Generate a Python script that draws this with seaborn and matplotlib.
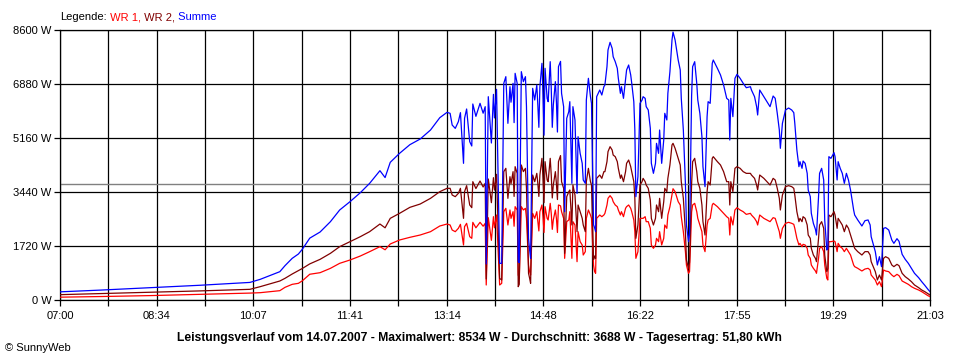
import matplotlib
matplotlib.use("Agg")
import numpy as np
import pandas as pd
import matplotlib.pyplot as plt
import seaborn as sns

# Minuten seit 07:00 und Leistung je Wechselrichter (W)
minutes = [
    0, 39, 87, 136, 184, 194, 203, 213, 218, 225, 231, 235, 242, 252, 262, 271, 281, 291,
    300, 310, 315, 320, 329, 339, 349, 359, 368, 375,
    378, 380, 383, 386, 388, 391, 392, 394, 397, 399, 400, 407, 412, 413, 415, 420, 423,
    426, 428, 430, 432, 434, 436, 439, 441, 443, 444, 445, 447, 449, 451, 452, 454, 455,
    456, 458, 460, 462, 463, 465, 467, 468, 470, 472, 473, 475, 476, 478, 480, 481, 483,
    485, 486, 488, 489, 491, 493, 494, 496, 497, 499, 501, 502, 504, 506, 507, 509, 510,
    512, 514, 515, 517, 518, 519, 520, 523, 525, 527, 528, 530, 531, 533, 535, 536, 538,
    540, 541, 543, 544, 546, 548, 549, 551, 553, 554, 556, 557, 558, 560, 562, 564, 565,
    567, 568, 570, 572, 573, 575, 577, 578, 580, 581, 583, 585, 586, 588, 589, 591, 593,
    594, 596, 597, 599, 601, 602, 604, 606, 607, 609, 610, 612, 613, 615, 617, 618, 620,
    622, 623, 625, 627, 628, 630, 632, 633, 637, 640, 643, 646, 648, 649, 650, 652, 654,
    656, 659, 662, 665, 669, 670, 673, 675, 676, 678, 682, 685, 688, 691, 693, 695, 697,
    698, 700, 703, 706, 709, 711, 712, 714, 716, 717, 719, 720, 722, 724, 725, 727, 728,
    730, 732, 733, 735, 736, 738, 740, 741, 743, 744, 745, 747, 750, 751, 753, 754, 756,
    758, 760, 762, 764, 766, 767, 769, 770, 773, 777, 780, 783, 785, 786, 790, 792, 794,
    796, 798, 800, 803, 806, 808, 811, 813, 816, 819, 822, 825, 828, 832, 835, 838, 841, 843,
]
wr1 = [
    90, 110, 140, 180, 220, 233, 265, 297, 403, 499, 531, 616, 820, 870, 1008, 1168, 1274, 1401,
    1539, 1699, 1600, 1784, 1911, 1996, 2070, 2176, 2357, 2420,
    2389, 2229, 2176, 2283, 2410, 1752, 2336, 2442, 2017, 1964, 2474, 2474, 2442, 478, 2622, 2654, 2707,
    478, 531, 2813, 2920, 2389, 2867, 2813, 2973, 2867, 796, 690, 2973, 2867, 2920, 2601, 1115, 903,
    796, 2760, 2601, 2813, 2495, 2813, 3026, 2654, 2973, 2601, 2548, 3079, 2760, 2548, 2867, 2601, 3026,
    3000, 2813, 2601, 1327, 2495, 2548, 2813, 1327, 2495, 2389, 1221, 2176, 1858, 1752, 1433, 1540, 2601,
    2867, 2707, 2601, 1105, 903, 850, 2601, 2707, 2654, 2707, 2760, 3026, 3238, 3323, 3238, 3132, 3026,
    2973, 2867, 2707, 2813, 2654, 2920, 2973, 3026, 2920, 2813, 2548, 2176, 1327, 1540, 2601, 2601, 2601,
    2654, 2495, 2495, 2283, 1752, 1646, 1752, 1964, 1858, 2176, 1752, 1964, 2389, 2283, 2707, 2973, 3344,
    3544, 3451, 3344, 3132, 3026, 2654, 2176, 1540, 1115, 850, 903, 2800, 3026, 3079, 2813, 2601, 2389,
    2176, 1752, 1540, 2389, 2548, 2601, 3026, 3079, 2973, 2867, 2760, 2654, 2601, 2070, 2654, 2389, 2867,
    2941, 2867, 2813, 2728, 2760, 2707, 2601, 2495, 2389, 2707, 2601, 2548, 2495, 2622, 2601, 2389, 2176,
    1964, 2283, 2442, 2474, 2442, 2410, 2283, 1964, 1752, 1805, 1699, 1773, 1752, 1646, 1433, 1327, 1115,
    1009, 924, 850, 1327, 1646, 1699, 1540, 1115, 690, 637, 1858, 1858, 1879, 1858, 1540, 1805, 1699,
    1646, 1540, 1646, 1540, 1433, 1327, 1115, 1062, 1009, 924, 987, 1009, 956, 796, 637, 478, 584,
    425, 956, 924, 903, 796, 743, 817, 775, 605, 552, 499, 425, 372, 318, 265, 201, 138, 106,
]
wr2 = [
    170, 205, 250, 290, 340, 425, 510, 605, 690, 828, 934, 1008, 1150, 1295, 1486, 1699, 1858, 2017,
    2176, 2420, 2300, 2601, 2760, 2951, 3057, 3238, 3450, 3557,
    3557, 3344, 3291, 3398, 3557, 2601, 3451, 3642, 3026, 2941, 3769, 3790, 3716, 670, 3854, 3896, 4003,
    690, 637, 4088, 4194, 3238, 3928, 4088, 4247, 4034, 424, 500, 4300, 4088, 4194, 3557, 850, 700,
    531, 3981, 3769, 4034, 3716, 3981, 4512, 3875, 4406, 3822, 3769, 4512, 3981, 3663, 4088, 3716, 4406,
    4600, 3769, 3557, 1486, 3291, 3451, 3504, 2389, 3663, 3344, 2176, 3026, 2813, 2601, 2389, 2176, 3769,
    4194, 3769, 3663, 1290, 1400, 1326, 3875, 3981, 3875, 4088, 4088, 4406, 4725, 4884, 4778, 4618, 4565,
    4406, 4194, 3875, 3981, 3769, 4088, 4353, 4459, 4247, 4088, 3769, 3238, 1964, 2389, 3663, 3769, 3875,
    3769, 3663, 3557, 3185, 2601, 2389, 2601, 3026, 2813, 3238, 2601, 3132, 3557, 3451, 3875, 4300, 4937,
    4990, 4831, 4725, 4512, 4300, 3769, 3238, 2176, 1274, 1008, 1200, 3700, 4406, 4512, 4088, 3769, 3557,
    3026, 2495, 2070, 3451, 3769, 3663, 4512, 4565, 4406, 4300, 4088, 3769, 3769, 3026, 3769, 3451, 4194,
    4247, 4194, 4088, 4034, 4034, 3981, 3875, 3663, 3504, 3981, 3875, 3769, 3663, 3875, 3822, 3557, 3238,
    2867, 3344, 3610, 3642, 3610, 3557, 3344, 2813, 2495, 2601, 2495, 2654, 2601, 2389, 2070, 1964, 1646,
    1433, 1327, 1221, 1964, 2389, 2495, 2283, 1433, 903, 1000, 2707, 2654, 2813, 2707, 2283, 2601, 2495,
    2389, 2176, 2389, 2283, 2070, 1964, 1752, 1646, 1540, 1433, 1540, 1540, 1433, 1221, 903, 637, 796,
    637, 1327, 1380, 1327, 1115, 1062, 1136, 1093, 850, 743, 669, 584, 478, 393, 318, 265, 202, 159,
]
# zusaetzliche Einbrueche im unruhigen Mittagsbereich
minutes_extra = [403, 410, 418, 421, 437, 440, 464, 469, 477, 482]
wr1_extra = [2300, 2350, 1900, 2300, 2600, 2350, 2200, 2150, 2250, 2150]
wr2_extra = [3550, 3600, 3100, 3500, 3700, 3300, 3300, 3100, 3250, 3200]

x_labels = ["07:00", "08:34", "10:07", "11:41", "13:14", "14:48", "16:22", "17:55", "19:29", "21:03"]
y_ticks = [0, 1720, 3440, 5160, 6880, 8600]
durchschnitt = 3688
titel = ("Leistungsverlauf vom 14.07.2007 - Maximalwert: 8534 W - "
         "Durchschnitt: 3688 W - Tagesertrag: 51,80 kWh")

df = pd.DataFrame({"Minute": minutes + minutes_extra,
                   "WR 1": wr1 + wr1_extra,
                   "WR 2": wr2 + wr2_extra})
df = df.sort_values("Minute").reset_index(drop=True)
df["Summe"] = df["WR 1"] + df["WR 2"]
long_df = df.melt(id_vars="Minute", var_name="Serie", value_name="Leistung")

sns.set_theme(style="white")
plt.rcParams["font.family"] = ["Liberation Sans", "DejaVu Sans"]

farben = {"WR 1": "#ff0000", "WR 2": "#800000", "Summe": "#0000ff"}

fig = plt.figure(figsize=(9.6, 3.6), dpi=100)
fig.patch.set_facecolor("white")
ax = fig.add_axes([60 / 960, 60 / 360, 870 / 960, 270 / 360])

sns.lineplot(data=long_df, x="Minute", y="Leistung", hue="Serie",
             hue_order=["WR 1", "WR 2", "Summe"], palette=farben, sort=False,
             estimator=None, linewidth=0.9, legend=False, ax=ax, zorder=3)

ax.axhline(durchschnitt, color="#808080", linewidth=1.0, zorder=2)

ax.set_xlim(0, 843)
ax.set_ylim(0, 8600)
major = np.linspace(0, 843, 10)
minor = (major[:-1] + major[1:]) / 2
ax.set_xticks(major)
ax.set_xticklabels(x_labels)
ax.set_xticks(minor, minor=True)
ax.set_yticks(y_ticks)
ax.set_yticklabels([f"{v} W" for v in y_ticks])
ax.set_xlabel("")
ax.set_ylabel("")

ax.grid(which="both", color="black", linewidth=0.9)
ax.set_axisbelow(True)
for s in ax.spines.values():
    s.set_color("black")
    s.set_linewidth(0.9)

ax.tick_params(which="both", direction="out", length=4, width=0.9, color="black",
               labelsize=8, labelcolor="black")
ax.tick_params(axis="x", which="both", bottom=True, pad=4)
ax.tick_params(axis="y", left=True, pad=2)

# Legende oben links
t0 = fig.text(60 / 960, 1 - 17 / 360, "Legende:", fontsize=8, color="black", va="center")
teile = [(" WR 1,", farben["WR 1"]), (" WR 2,", farben["WR 2"]), (" Summe", farben["Summe"])]
prev = t0
for txt, col in teile:
    prev = ax.annotate(txt, xy=(1, 0), xycoords=prev, va="bottom", ha="left",
                       fontsize=8, color=col, annotation_clip=False)

fig.text(479 / 960, 1 - 338 / 360, titel, fontsize=8.7, fontweight="bold",
         ha="center", va="center", color="black")
fig.text(5 / 960, 1 - 348 / 360, "© SunnyWeb", fontsize=8, ha="left", va="center",
         color="black")

fig.savefig("out.png", dpi=100, facecolor="white")
